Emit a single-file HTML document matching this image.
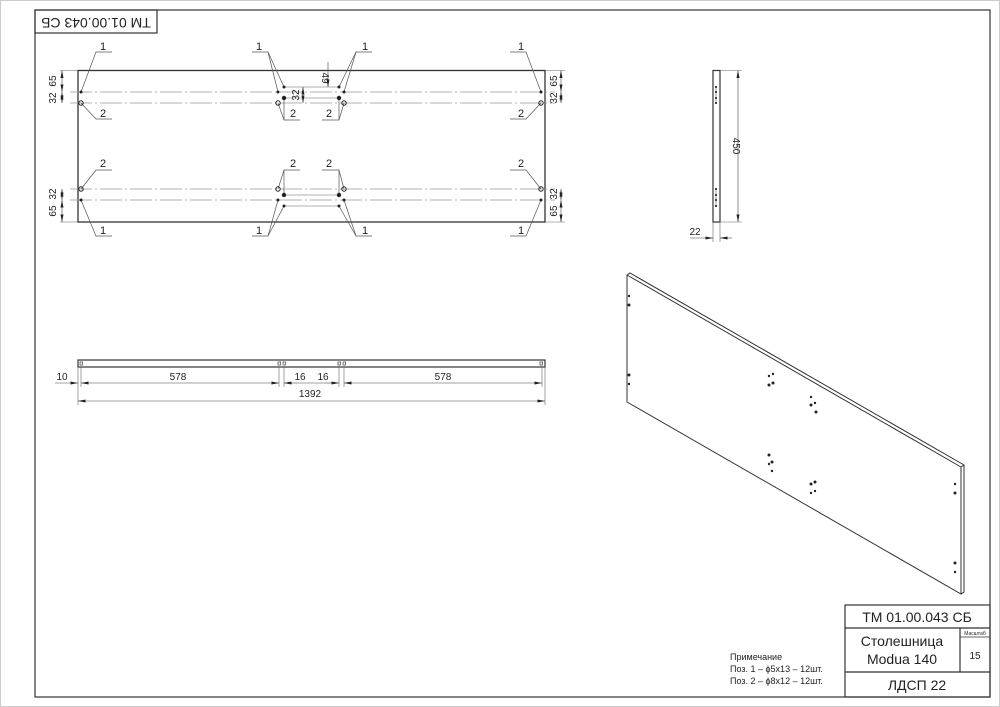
<!DOCTYPE html>
<html><head><meta charset="utf-8"><style>
html,body{margin:0;padding:0;background:#fff}
svg{display:block}
text{font-family:"Liberation Sans","DejaVu Sans",sans-serif;fill:#222}
</style></head><body>
<svg width="1000" height="707" viewBox="0 0 1000 707" xmlns="http://www.w3.org/2000/svg">
<defs>
<marker id="a" viewBox="0 0 10 4" refX="10" refY="2" markerWidth="8" markerHeight="3" orient="auto-start-reverse" markerUnits="userSpaceOnUse"><path d="M0,0 L10,2 L0,4z" fill="#222"/></marker>
</defs>
<rect x="0" y="0" width="1000" height="707" fill="#fff"/>
<rect x="0.5" y="0.5" width="999" height="706" fill="none" stroke="#ccc"/>
<rect x="35" y="10" width="955" height="687" fill="none" stroke="#333" stroke-width="1.2"/>
<rect x="35" y="10" width="122" height="23" fill="none" stroke="#333" stroke-width="1.2"/>
<text x="96" y="21.5" font-size="14" text-anchor="middle" dominant-baseline="middle" transform="rotate(180 96 21.5)">ТМ 01.00.043 СБ</text>

<!-- TOP VIEW -->
<g stroke="#333" fill="none">
<rect x="78" y="70.5" width="467" height="151.5" stroke-width="1.3"/>
<g stroke="#999" stroke-width="0.7" stroke-dasharray="22,3,2,3">
<line x1="70" y1="92" x2="555" y2="92"/><line x1="70" y1="103" x2="555" y2="103"/>
<line x1="70" y1="189" x2="555" y2="189"/><line x1="70" y1="200" x2="555" y2="200"/>
</g>
<g stroke="#666" stroke-width="0.6">
<line x1="284" y1="87" x2="339" y2="87"/><line x1="284" y1="98" x2="339" y2="98"/>
<line x1="284" y1="195" x2="339" y2="195"/><line x1="284" y1="206" x2="339" y2="206"/>
<line x1="60" y1="70.5" x2="78" y2="70.5"/><line x1="60" y1="222" x2="78" y2="222"/>
<line x1="545" y1="70.5" x2="565" y2="70.5"/><line x1="545" y1="222" x2="565" y2="222"/>
</g>
<g stroke="#444" stroke-width="0.6" marker-start="url(#a)" marker-end="url(#a)">
<line x1="62" y1="70.5" x2="62" y2="92"/><line x1="62" y1="92" x2="62" y2="103"/>
<line x1="62" y1="189" x2="62" y2="200"/><line x1="62" y1="200" x2="62" y2="222"/>
<line x1="561" y1="70.5" x2="561" y2="92"/><line x1="561" y1="92" x2="561" y2="103"/>
<line x1="561" y1="189" x2="561" y2="200"/><line x1="561" y1="200" x2="561" y2="222"/>
<line x1="303" y1="87" x2="303" y2="103"/>
</g>
<line x1="328" y1="62" x2="328" y2="87" stroke="#444" stroke-width="0.6" marker-end="url(#a)"/>
<g stroke="#555" stroke-width="0.7">
<polyline points="81,92 96,52 112,52"/><polyline points="81,103 96,119 112,119"/>
<polyline points="81,189 96,170 112,170"/><polyline points="81,200 96,236 112,236"/>
<polyline points="541,92 526,52 510,52"/><polyline points="541,103 526,119 510,119"/>
<polyline points="541,189 526,170 510,170"/><polyline points="541,200 526,236 510,236"/>
<polyline points="252,52 268,52 284,87"/><line x1="268" y1="52" x2="278" y2="92"/>
<polyline points="300,120 284,120 284,98"/><line x1="284" y1="120" x2="278" y2="103"/>
<polyline points="372,52 356,52 339,87"/><line x1="356" y1="52" x2="344" y2="92"/>
<polyline points="322,120 339,120 339,98"/><line x1="339" y1="120" x2="344" y2="103"/>
<polyline points="300,170 284,170 278,189"/><line x1="284" y1="170" x2="284" y2="195"/>
<polyline points="322,170 339,170 344,189"/><line x1="339" y1="170" x2="339" y2="195"/>
<polyline points="252,236 268,236 278,200"/><line x1="268" y1="236" x2="284" y2="206"/>
<polyline points="372,236 356,236 344,200"/><line x1="356" y1="236" x2="339" y2="206"/>
</g>
</g>
<g fill="#222">
<circle cx="81" cy="92" r="1.5"/><circle cx="81" cy="103" r="2.2" fill="none" stroke="#222"/>
<circle cx="81" cy="189" r="2.2" fill="none" stroke="#222"/><circle cx="81" cy="200" r="1.5"/>
<circle cx="541" cy="92" r="1.5"/><circle cx="541" cy="103" r="2.2" fill="none" stroke="#222"/>
<circle cx="541" cy="189" r="2.2" fill="none" stroke="#222"/><circle cx="541" cy="200" r="1.5"/>
<circle cx="284" cy="87" r="1.5"/><circle cx="278" cy="92" r="1.5"/><circle cx="284" cy="98" r="2.2"/><circle cx="278" cy="103" r="2.2" fill="none" stroke="#222"/>
<circle cx="339" cy="87" r="1.5"/><circle cx="344" cy="92" r="1.5"/><circle cx="339" cy="98" r="2.2"/><circle cx="344" cy="103" r="2.2" fill="none" stroke="#222"/>
<circle cx="278" cy="189" r="2.2" fill="none" stroke="#222"/><circle cx="284" cy="195" r="2.2"/><circle cx="278" cy="200" r="1.5"/><circle cx="284" cy="206" r="1.5"/>
<circle cx="344" cy="189" r="2.2" fill="none" stroke="#222"/><circle cx="339" cy="195" r="2.2"/><circle cx="344" cy="200" r="1.5"/><circle cx="339" cy="206" r="1.5"/>
</g>
<g font-size="11">
<text x="100" y="50">1</text><text x="100" y="117">2</text><text x="100" y="167">2</text><text x="100" y="234">1</text>
<text x="518" y="50">1</text><text x="518" y="117">2</text><text x="518" y="167">2</text><text x="518" y="234">1</text>
<text x="256" y="50">1</text><text x="362" y="50">1</text><text x="290" y="117">2</text><text x="326" y="117">2</text>
<text x="290" y="167">2</text><text x="326" y="167">2</text><text x="256" y="234">1</text><text x="362" y="234">1</text>
</g>
<g font-size="10" text-anchor="middle">
<text transform="translate(56,81) rotate(-90)">65</text><text transform="translate(56,98) rotate(-90)">32</text>
<text transform="translate(56,194) rotate(-90)">32</text><text transform="translate(56,211) rotate(-90)">65</text>
<text transform="translate(557,81) rotate(-90)">65</text><text transform="translate(557,98) rotate(-90)">32</text>
<text transform="translate(557,194) rotate(-90)">32</text><text transform="translate(557,211) rotate(-90)">65</text>
<text transform="translate(299,95) rotate(-90)">32</text><text transform="translate(322,78) rotate(90)">49</text>
</g>

<!-- SIDE VIEW -->
<g stroke="#333" fill="none">
<rect x="713" y="70.5" width="7" height="151.5" stroke-width="1.2"/>
<g stroke="#666" stroke-width="0.6">
<line x1="720" y1="70.5" x2="742" y2="70.5"/><line x1="720" y1="222" x2="742" y2="222"/>
<line x1="713" y1="222" x2="713" y2="242"/><line x1="720" y1="222" x2="720" y2="242"/>
<line x1="690" y1="238" x2="713" y2="238" marker-end="url(#a)" stroke="#444"/>
<line x1="732" y1="238" x2="720" y2="238" marker-end="url(#a)" stroke="#444"/>
<line x1="716" y1="87" x2="716" y2="104"/><line x1="716" y1="188" x2="716" y2="206"/>
</g>
<line x1="738" y1="70.5" x2="738" y2="222" stroke="#444" stroke-width="0.6" marker-start="url(#a)" marker-end="url(#a)"/>
</g>
<g fill="#444"><rect x="715" y="86" width="2" height="2"/><rect x="715" y="91" width="2" height="2"/><rect x="715" y="97" width="2" height="2"/><rect x="715" y="102" width="2" height="2"/>
<rect x="715" y="188" width="2" height="2"/><rect x="715" y="194" width="2" height="2"/><rect x="715" y="199" width="2" height="2"/><rect x="715" y="205" width="2" height="2"/></g>
<text font-size="10" text-anchor="middle" transform="translate(733,146) rotate(90)">450</text>
<text x="695" y="235" font-size="10" text-anchor="middle">22</text>

<!-- FRONT VIEW -->
<g stroke="#333" fill="none">
<rect x="78" y="360" width="467" height="7" stroke-width="1.2"/>
<g stroke="#666" stroke-width="0.6">
<line x1="78" y1="367" x2="78" y2="405"/><line x1="545" y1="367" x2="545" y2="405"/>
<line x1="81" y1="367" x2="81" y2="387"/><line x1="279" y1="367" x2="279" y2="387"/><line x1="284" y1="367" x2="284" y2="387"/>
<line x1="339" y1="367" x2="339" y2="387"/><line x1="344" y1="367" x2="344" y2="387"/><line x1="542" y1="367" x2="542" y2="387"/>
</g>
<g stroke="#444" stroke-width="0.6">
<line x1="55" y1="383" x2="78" y2="383" marker-end="url(#a)"/>
<line x1="81" y1="383" x2="279" y2="383" marker-start="url(#a)" marker-end="url(#a)"/>
<line x1="284" y1="383" x2="298" y2="383" marker-start="url(#a)"/>
<line x1="325" y1="383" x2="339" y2="383" marker-end="url(#a)"/>
<line x1="298" y1="383" x2="325" y2="383"/>
<line x1="344" y1="383" x2="542" y2="383" marker-start="url(#a)" marker-end="url(#a)"/>
<line x1="78" y1="401" x2="545" y2="401" marker-start="url(#a)" marker-end="url(#a)"/>
</g>
</g>
<g fill="none" stroke="#555" stroke-width="0.8"><rect x="80" y="362" width="2.5" height="3"/><rect x="278" y="362" width="2.5" height="3"/><rect x="283" y="362" width="2.5" height="3"/><rect x="338" y="362" width="2.5" height="3"/><rect x="343" y="362" width="2.5" height="3"/><rect x="540" y="362" width="2.5" height="3"/></g>
<g font-size="10" text-anchor="middle">
<text x="62" y="380">10</text><text x="178" y="380">578</text><text x="300" y="380">16</text><text x="323" y="380">16</text><text x="443" y="380">578</text><text x="310" y="397">1392</text>
</g>

<!-- ISO VIEW -->
<g stroke="#333" fill="none" stroke-width="1">
<polygon points="627,275 630,273 964,465 964,592 961,594 627,402"/>
<line x1="627" y1="275" x2="961" y2="467"/><line x1="961" y1="467" x2="961" y2="594"/><line x1="961" y1="467" x2="964" y2="465"/>
</g>
<g fill="#222">
<circle cx="629" cy="296" r="1.2"/><circle cx="629" cy="305" r="1.5"/><circle cx="629" cy="375" r="1.5"/><circle cx="629" cy="384" r="1.2"/>
<circle cx="769" cy="376" r="1.2"/><circle cx="773" cy="374" r="1.2"/><circle cx="769" cy="385" r="1.5"/><circle cx="773" cy="383" r="1.5"/>
<circle cx="811" cy="397" r="1.2"/><circle cx="811" cy="405" r="1.5"/><circle cx="815" cy="403" r="1.2"/><circle cx="816" cy="412" r="1.5"/>
<circle cx="769" cy="455" r="1.5"/><circle cx="769" cy="464" r="1.2"/><circle cx="772" cy="462" r="1.5"/><circle cx="772" cy="471" r="1.2"/>
<circle cx="811" cy="484" r="1.5"/><circle cx="815" cy="482" r="1.5"/><circle cx="811" cy="493" r="1.2"/><circle cx="815" cy="491" r="1.2"/>
<circle cx="955" cy="484" r="1.2"/><circle cx="955" cy="493" r="1.5"/><circle cx="955" cy="563" r="1.5"/><circle cx="955" cy="572" r="1.2"/>
</g>

<g font-size="9" fill="#333">
<text x="730" y="660">Примечание</text>
<text x="730" y="672">Поз. 1 – ϕ5х13 – 12шт.</text>
<text x="730" y="684">Поз. 2 – ϕ8х12 – 12шт.</text>
</g>
<g stroke="#333" fill="none" stroke-width="1.2">
<rect x="845" y="605" width="145" height="92"/>
<line x1="845" y1="628" x2="990" y2="628"/><line x1="845" y1="672" x2="990" y2="672"/>
<line x1="960" y1="628" x2="960" y2="672"/><line x1="960" y1="637" x2="990" y2="637" stroke-width="0.8"/>
</g>
<text x="917" y="622" font-size="14" text-anchor="middle">ТМ 01.00.043 СБ</text>
<text x="902" y="646" font-size="14" text-anchor="middle">Столешница</text>
<text x="902" y="664" font-size="14" text-anchor="middle">Modua 140</text>
<text x="975" y="635" font-size="5" text-anchor="middle">Масштаб</text>
<text x="975" y="659" font-size="10" text-anchor="middle">15</text>
<text x="917" y="690" font-size="14" text-anchor="middle">ЛДСП 22</text>
</svg>
</body></html>
